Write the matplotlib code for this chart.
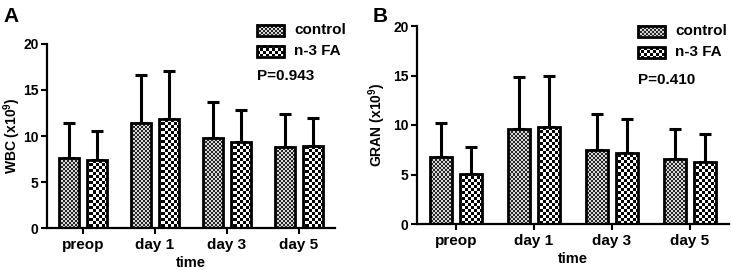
"""
WBC and GRAN counts over time, control vs n-3 FA (two-panel bar chart with SD).
Checkerboard fills are drawn as clipped images so they look like the print.
"""

import matplotlib
matplotlib.use("Agg")
import matplotlib.pyplot as plt
import numpy as np

plt.rcParams["font.family"] = ["Liberation Sans", "DejaVu Sans"]
plt.rcParams["font.weight"] = "bold"
plt.rcParams["mathtext.fontset"] = "custom"
plt.rcParams["mathtext.rm"] = "Liberation Sans:bold"
plt.rcParams["mathtext.bf"] = "Liberation Sans:bold"

# ── data ──────────────────────────────────────────────────────────────────
TIMES = ["preop", "day 1", "day 3", "day 5"]
GROUPS = ["control", "n-3 FA"]

wbc_control = [7.6, 11.4, 9.8, 8.8]
wbc_control_sd = [3.8, 5.2, 3.9, 3.6]
wbc_n3 = [7.4, 11.8, 9.3, 8.9]
wbc_n3_sd = [3.1, 5.3, 3.5, 3.1]

gran_control = [6.8, 9.6, 7.5, 6.6]
gran_control_sd = [3.4, 5.2, 3.6, 3.0]
gran_n3 = [5.1, 9.8, 7.2, 6.3]
gran_n3_sd = [2.7, 5.1, 3.4, 2.8]

P_WBC = "P=0.943"
P_GRAN = "P=0.410"

W, H, DPI = 731, 270, 100
BAR_W = 0.28
OFFSET = 0.19


def checker(h, w, cell, c0, c1):
    """RGB checkerboard, h x w pixels, squares of `cell` pixels."""
    i = np.arange(h)[:, None] // cell
    j = np.arange(w)[None, :] // cell
    mask = (i + j) % 2 == 0
    img = np.empty((h, w, 3))
    img[mask] = c0
    img[~mask] = c1
    return img


FINE = dict(cell=2, c0=(0.15, 0.15, 0.15), c1=(0.85, 0.85, 0.85))
COARSE = dict(cell=3, c0=(0.0, 0.0, 0.0), c1=(1.0, 1.0, 1.0))


def fx(px):
    return px / W


def fy(py):
    return 1 - py / H


fig = plt.figure(figsize=(W / DPI, H / DPI), dpi=DPI)


def panel(rect, letter, ylabel, ctrl, ctrl_sd, n3, n3_sd, ptext, leg_x, leg_rows, p_y,
          ylabel_pad):
    ax = fig.add_axes(rect)
    x = np.arange(len(TIMES))
    ax_w = int(round(rect[2] * W))
    ax_h = int(round(rect[3] * H))

    for vals, sds, off, pat in [(ctrl, ctrl_sd, -OFFSET, FINE), (n3, n3_sd, OFFSET, COARSE)]:
        ax.errorbar(x + off, vals, yerr=[np.zeros(len(vals)), sds], fmt="none",
                    ecolor="black", elinewidth=2.2, capsize=4.5, capthick=2.2, zorder=1)
        bars = ax.bar(x + off, vals, width=BAR_W, facecolor="white",
                      edgecolor="black", linewidth=2.0, zorder=3)
        img = checker(ax_h, ax_w, **pat)
        for b in bars:
            b.set_facecolor("none")
            im = ax.imshow(img, extent=(-0.5, 3.5, 0, 20), aspect="auto",
                           interpolation="nearest", zorder=2)
            im.set_clip_path(b)

    ax.set_xlim(-0.5, 3.5)
    ax.set_ylim(0, 20)
    ax.set_yticks([0, 5, 10, 15, 20])
    ax.set_xticks(x)
    ax.set_xticklabels(TIMES, fontsize=11, fontweight="bold")
    for lab in ax.get_yticklabels():
        lab.set_fontsize(10)
        lab.set_fontweight("bold")
    ax.tick_params(direction="out", length=4, width=1.5, pad=2)
    ax.tick_params(axis="x", pad=3)
    for s in ["top", "right"]:
        ax.spines[s].set_visible(False)
    for s in ["left", "bottom"]:
        ax.spines[s].set_linewidth(1.6)
    ax.set_ylabel(ylabel, fontsize=10, fontweight="bold", labelpad=ylabel_pad)
    ax.set_xlabel("time", fontsize=10.5, fontweight="bold", labelpad=3)

    # panel letter
    fig.text(fx(rect[0] * W - 44), fy(16), letter, fontsize=15, fontweight="bold",
             ha="left", va="center")

    # legend drawn by hand so the patches keep the checker fill
    for (grp, pat), yc in zip(zip(GROUPS, [FINE, COARSE]), leg_rows):
        pw, ph = 27, 11
        img = checker(ph, pw, **pat)
        x0, x1 = fx(leg_x), fx(leg_x + pw)
        y0, y1 = fy(yc + ph / 2), fy(yc - ph / 2)
        ax.imshow(img, extent=(x0, x1, y0, y1), transform=fig.transFigure,
                  interpolation="nearest", aspect="auto", zorder=5, clip_on=False)
        fig.patches.append(plt.Rectangle((x0, y0), x1 - x0, y1 - y0, transform=fig.transFigure,
                                         facecolor="none", edgecolor="black", linewidth=2.0))
        fig.text(fx(leg_x + pw + 10), fy(yc), grp, fontsize=11, fontweight="bold",
                 ha="left", va="center")
    fig.text(fx(leg_x), fy(p_y), ptext, fontsize=11, fontweight="bold",
             ha="left", va="center")

    ax.set_xlim(-0.5, 3.5)
    ax.set_ylim(0, 20)
    return ax


panel([fx(47), 1 - 228 / H, 288 / W, 184 / H], "A", "WBC (x10$^{9}$)",
      wbc_control, wbc_control_sd, wbc_n3, wbc_n3_sd, P_WBC,
      leg_x=257, leg_rows=[30, 51], p_y=76, ylabel_pad=0)
panel([fx(417), 1 - 224 / H, 312 / W, 198 / H], "B", "GRAN (x10$^{9}$)",
      gran_control, gran_control_sd, gran_n3, gran_n3_sd, P_GRAN,
      leg_x=638, leg_rows=[31, 52], p_y=80, ylabel_pad=4)

fig.savefig("out.png", dpi=DPI)
